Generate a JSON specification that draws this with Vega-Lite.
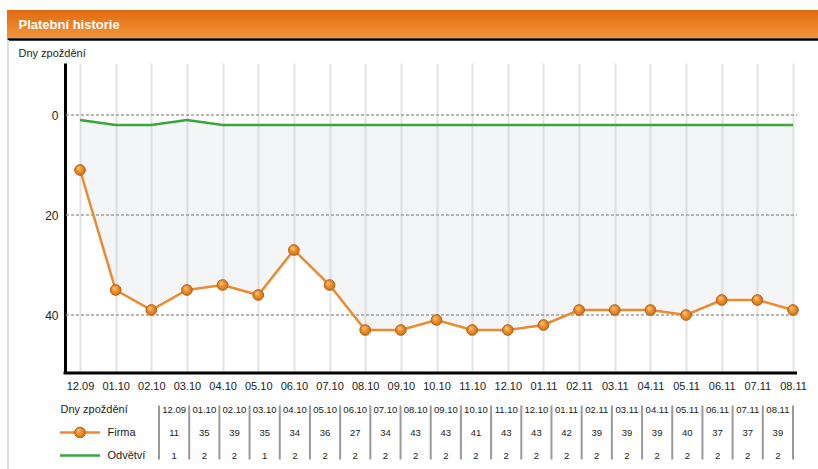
{
  "$schema": "https://vega.github.io/schema/vega-lite/v6.json",
  "padding": {"left": 7, "top": 10, "right": 0, "bottom": 0},
  "background": "white",
  "bounds": "flush",
  "spacing": 25,
  "config": {
    "view": {"stroke": null},
    "font": "Liberation Sans",
    "axis": {"labelFont": "Liberation Sans", "titleFont": "Liberation Sans", "minExtent": 0}
  },
  "datasets": {
    "history": [
      {"mesic": "12.09", "firma": 11, "odvetvi": 1},
      {"mesic": "01.10", "firma": 35, "odvetvi": 2},
      {"mesic": "02.10", "firma": 39, "odvetvi": 2},
      {"mesic": "03.10", "firma": 35, "odvetvi": 1},
      {"mesic": "04.10", "firma": 34, "odvetvi": 2},
      {"mesic": "05.10", "firma": 36, "odvetvi": 2},
      {"mesic": "06.10", "firma": 27, "odvetvi": 2},
      {"mesic": "07.10", "firma": 34, "odvetvi": 2},
      {"mesic": "08.10", "firma": 43, "odvetvi": 2},
      {"mesic": "09.10", "firma": 43, "odvetvi": 2},
      {"mesic": "10.10", "firma": 41, "odvetvi": 2},
      {"mesic": "11.10", "firma": 43, "odvetvi": 2},
      {"mesic": "12.10", "firma": 43, "odvetvi": 2},
      {"mesic": "01.11", "firma": 42, "odvetvi": 2},
      {"mesic": "02.11", "firma": 39, "odvetvi": 2},
      {"mesic": "03.11", "firma": 39, "odvetvi": 2},
      {"mesic": "04.11", "firma": 39, "odvetvi": 2},
      {"mesic": "05.11", "firma": 40, "odvetvi": 2},
      {"mesic": "06.11", "firma": 37, "odvetvi": 2},
      {"mesic": "07.11", "firma": 37, "odvetvi": 2},
      {"mesic": "08.11", "firma": 39, "odvetvi": 2}
    ],
    "legenda": [{"rada": "Firma"}, {"rada": "Odvětví"}]
  },
  "vconcat": [
    {
      "width": 811,
      "height": 28,
      "data": {"values": [{"nazev": "Platební historie"}]},
      "mark": {
        "type": "rect",
        "color": {
          "gradient": "linear", "x1": 0, "y1": 0, "x2": 0, "y2": 1,
          "stops": [{"offset": 0, "color": "#e06a10"}, {"offset": 1, "color": "#f2953c"}]
        }
      },
      "encoding": {
        "x": {
          "datum": 0, "type": "quantitative",
          "scale": {"domain": [0, 1], "nice": false},
          "axis": {
            "orient": "bottom", "title": "Platební historie", "labels": false, "ticks": false, "grid": false,
            "domainColor": "#000000", "domainWidth": 2.5, "offset": 1, "zindex": 1,
            "titleX": 11, "titleY": -10.5, "titleAlign": "left", "titleBaseline": "alphabetic",
            "titleColor": "#ffffff", "titleFontSize": 13, "titleFontWeight": "bold"
          }
        },
        "x2": {"datum": 1}
      }
    },
    {
      "width": 811,
      "height": 310,
      "data": {"name": "history"},
      "encoding": {
        "x": {
          "field": "mesic", "type": "ordinal", "sort": null,
          "scale": {
            "type": "point", "padding": 0, "range": [73, 786],
            "domain": ["12.09","01.10","02.10","03.10","04.10","05.10","06.10","07.10","08.10","09.10","10.10","11.10","12.10","01.11","02.11","03.11","04.11","05.11","06.11","07.11","08.11"]
          },
          "axis": {
            "title": null, "labelAngle": 0, "labelFontSize": 11, "labelColor": "#222222", "labelPadding": 7,
            "ticks": false, "domain": false, "grid": true, "gridColor": "#e3e3e3", "gridWidth": 2
          }
        }
      },
      "layer": [
        {
          "mark": {"type": "area", "color": "#c8cdd8", "opacity": 0.2},
          "encoding": {
            "y": {
              "field": "odvetvi", "type": "quantitative",
              "scale": {"domain": [-10.4, 51.6], "reverse": true, "nice": false, "zero": false},
              "axis": {
                "orient": "left", "offset": -58, "values": [0, 20, 40],
                "title": "Dny zpoždění", "titleAngle": 0, "titleX": -47, "titleY": -10,
                "titleAlign": "left", "titleBaseline": "middle", "titleFontSize": 11,
                "titleFontWeight": "normal", "titleColor": "#222222",
                "labelFontSize": 12, "labelColor": "#222222", "labelPadding": 7,
                "ticks": false, "grid": false, "domainColor": "#000000", "domainWidth": 3
              }
            },
            "y2": {"field": "firma"}
          }
        },
        {
          "data": {"values": [{"ram": "levy okraj"}]},
          "mark": {"type": "rule", "color": "#dcdcdc", "strokeWidth": 2, "xOffset": -72, "yOffset": -23, "y2Offset": 96},
          "encoding": {
            "x": {"datum": "12.09"},
            "y": {"datum": -10.4, "type": "quantitative", "title": "Dny zpoždění"},
            "y2": {"datum": 51.6}
          }
        },
        {
          "data": {"values": [{"hodnota": 0}, {"hodnota": 20}, {"hodnota": 40}]},
          "mark": {"type": "rule", "color": "#a0a0a0", "strokeDash": [3, 2], "strokeWidth": 1.5, "xOffset": -14, "x2Offset": 4},
          "encoding": {
            "y": {"field": "hodnota", "type": "quantitative", "title": "Dny zpoždění"},
            "x": {"datum": "12.09"},
            "x2": {"datum": "08.11"}
          }
        },
        {
          "data": {"values": [{"osa": "x"}]},
          "mark": {"type": "rule", "color": "#000000", "strokeWidth": 3, "xOffset": -16.5, "x2Offset": 4},
          "encoding": {
            "y": {"datum": 51.6, "type": "quantitative", "title": "Dny zpoždění"},
            "x": {"datum": "12.09"},
            "x2": {"datum": "08.11"}
          }
        },
        {
          "mark": {"type": "line", "color": "#3aa53c", "strokeWidth": 2.5},
          "encoding": {"y": {"field": "odvetvi", "type": "quantitative", "title": "Dny zpoždění"}}
        },
        {
          "mark": {"type": "line", "color": "#ec8a30", "strokeWidth": 2.5},
          "encoding": {"y": {"field": "firma", "type": "quantitative", "title": "Dny zpoždění"}}
        },
        {
          "mark": {
            "type": "point", "filled": true, "size": 115, "opacity": 1,
            "fill": {
              "gradient": "radial", "x1": 0.35, "y1": 0.3, "r1": 0, "x2": 0.5, "y2": 0.5, "r2": 0.55,
              "stops": [{"offset": 0, "color": "#ffd08a"}, {"offset": 0.4, "color": "#f39a35"}, {"offset": 1, "color": "#c86a10"}]
            },
            "stroke": "#b9601c", "strokeWidth": 1
          },
          "encoding": {"y": {"field": "firma", "type": "quantitative", "title": "Dny zpoždění"}}
        }
      ]
    },
    {
      "bounds": "flush",
      "spacing": 6,
      "hconcat": [
        {
          "width": 146,
          "height": 69,
          "data": {"name": "legenda"},
          "encoding": {
            "y": {
              "field": "rada", "type": "nominal",
              "scale": {"domain": ["Dny zpoždění", "Firma", "Odvětví"]},
              "axis": {
                "orient": "left", "title": null, "ticks": false, "domain": false, "grid": false,
                "labelAlign": "left", "labelBaseline": "middle", "labelFontSize": 11, "labelColor": "#222222",
                "labelPadding": {"condition": {"test": "datum.value === 'Dny zpoždění'", "value": -53}, "value": -100}
              }
            }
          },
          "layer": [
            {
              "mark": {"type": "point", "shape": "M-1,0H1", "size": 1600, "strokeWidth": 2.5, "filled": false, "opacity": 1},
              "encoding": {
                "color": {
                  "field": "rada", "type": "nominal",
                  "scale": {"domain": ["Firma", "Odvětví"], "range": ["#ec8a30", "#3aa53c"]},
                  "legend": null
                }
              }
            },
            {
              "transform": [{"filter": "datum.rada === 'Firma'"}],
              "mark": {
                "type": "point", "filled": true, "size": 115, "opacity": 1,
                "fill": {
                  "gradient": "radial", "x1": 0.35, "y1": 0.3, "r1": 0, "x2": 0.5, "y2": 0.5, "r2": 0.55,
                  "stops": [{"offset": 0, "color": "#ffd08a"}, {"offset": 0.4, "color": "#f39a35"}, {"offset": 1, "color": "#c86a10"}]
                },
                "stroke": "#b9601c", "strokeWidth": 1
              }
            }
          ]
        },
        {
          "width": 634,
          "height": 69,
          "data": {"name": "history"},
          "encoding": {
            "x": {
              "field": "mesic", "type": "ordinal", "sort": null,
              "scale": {
                "type": "band", "paddingInner": 0, "paddingOuter": 0,
                "domain": ["12.09","01.10","02.10","03.10","04.10","05.10","06.10","07.10","08.10","09.10","10.10","11.10","12.10","01.11","02.11","03.11","04.11","05.11","06.11","07.11","08.11"]
              },
              "axis": null
            }
          },
          "layer": [
            {
              "mark": {"type": "rule", "color": "#9a9a9a", "strokeWidth": 2, "yOffset": -4, "y2Offset": 4},
              "encoding": {
                "x": {"field": "mesic", "type": "ordinal", "bandPosition": 0},
                "y": {"datum": "Dny zpoždění", "type": "nominal", "scale": {"domain": ["Dny zpoždění", "Firma", "Odvětví"]}, "axis": null},
                "y2": {"datum": "Odvětví"}
              }
            },
            {
              "transform": [{"filter": "datum.mesic === '08.11'"}],
              "mark": {"type": "rule", "color": "#9a9a9a", "strokeWidth": 2, "yOffset": -4, "y2Offset": 4},
              "encoding": {
                "x": {"field": "mesic", "type": "ordinal", "bandPosition": 1},
                "y": {"datum": "Dny zpoždění", "type": "nominal", "axis": null},
                "y2": {"datum": "Odvětví"}
              }
            },
            {
              "mark": {"type": "text", "fontSize": 9.5, "color": "#222222"},
              "encoding": {"y": {"datum": "Dny zpoždění", "type": "nominal", "axis": null}, "text": {"field": "mesic"}}
            },
            {
              "mark": {"type": "text", "fontSize": 9.5, "color": "#222222"},
              "encoding": {"y": {"datum": "Firma", "type": "nominal", "axis": null}, "text": {"field": "firma"}}
            },
            {
              "mark": {"type": "text", "fontSize": 9.5, "color": "#222222"},
              "encoding": {"y": {"datum": "Odvětví", "type": "nominal", "axis": null}, "text": {"field": "odvetvi"}}
            }
          ]
        }
      ]
    }
  ]
}
